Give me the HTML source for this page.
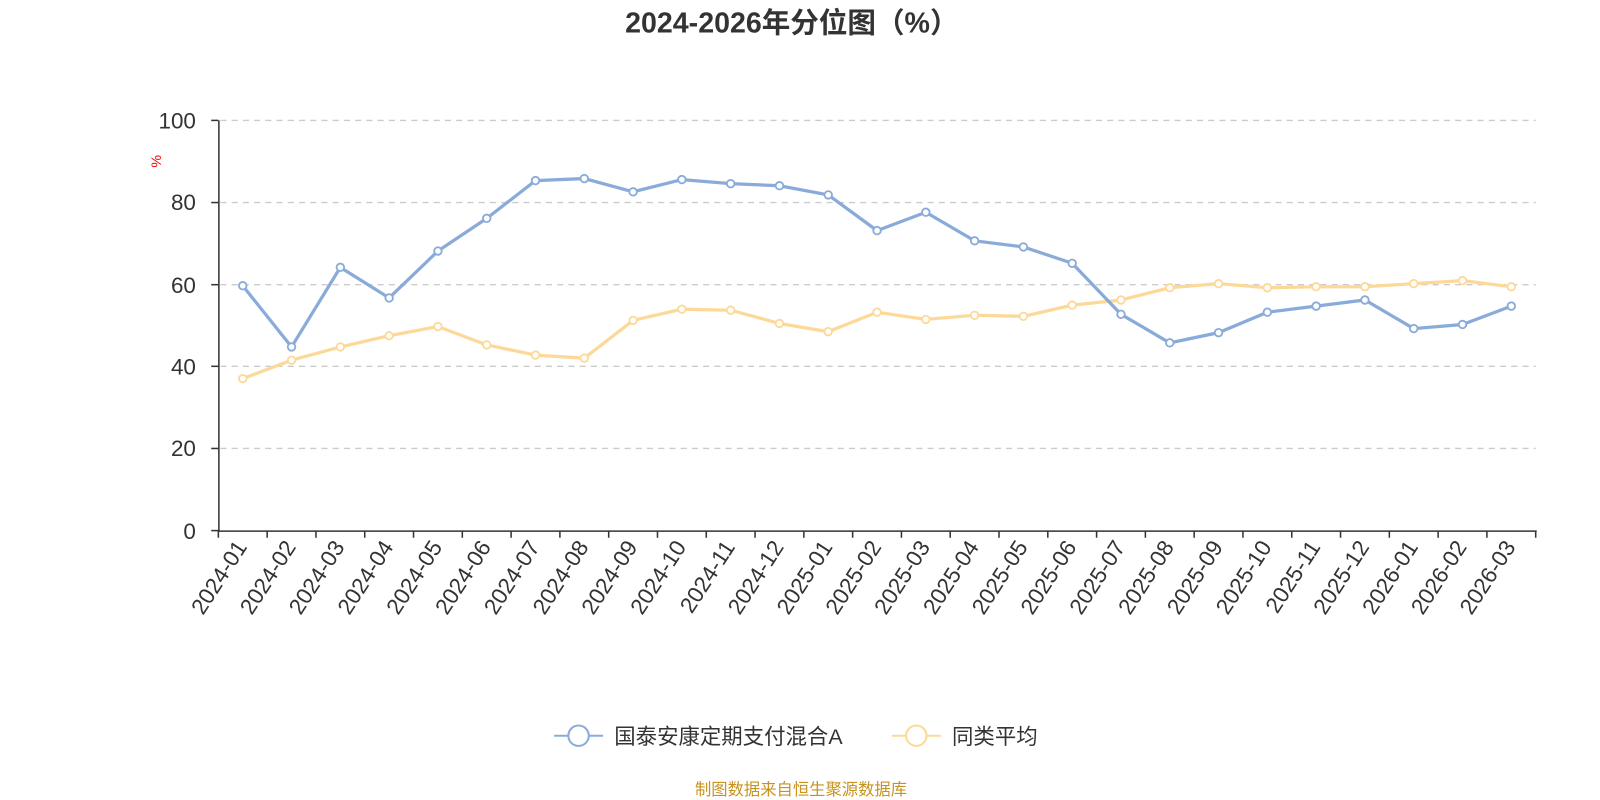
<!DOCTYPE html>
<html><head><meta charset="utf-8"><style>
body{margin:0;background:#fff;overflow:hidden}
svg{display:block;font-family:"Liberation Sans","Noto Sans CJK SC",sans-serif}
</style></head><body>
<svg width="1600" height="800" viewBox="0 0 1600 800" xmlns="http://www.w3.org/2000/svg">
<g transform="scale(1.0204)">
<text x="776" y="32" text-anchor="middle" font-size="28" font-weight="bold" fill="#333">2024-2026年分位图（%）</text>
<text x="158" y="158" font-size="14" fill="#e00" transform="rotate(-90 158 158)" text-anchor="middle">%</text>
<g stroke="#ccc" stroke-dasharray="6,5" stroke-width="1.3">
<line x1="216" x2="1505" y1="118" y2="118"/><line x1="216" x2="1505" y1="198.5" y2="198.5"/>
<line x1="216" x2="1505" y1="279" y2="279"/><line x1="216" x2="1505" y1="359" y2="359"/>
<line x1="216" x2="1505" y1="439.5" y2="439.5"/>
</g>
<g stroke="#333" stroke-width="1.5">
<line x1="214.5" x2="214.5" y1="118" y2="521"/><line x1="214" x2="1506" y1="520.5" y2="520.5"/>
<line x1="207" x2="214" y1="118" y2="118"/><line x1="207" x2="214" y1="198.5" y2="198.5"/><line x1="207" x2="214" y1="279" y2="279"/><line x1="207" x2="214" y1="359" y2="359"/><line x1="207" x2="214" y1="439.5" y2="439.5"/><line x1="207" x2="214" y1="520" y2="520"/>
</g>
<g font-size="22" fill="#333" text-anchor="end">
<text x="192" y="126">100</text><text x="192" y="206">80</text><text x="192" y="287">60</text><text x="192" y="367">40</text><text x="192" y="447">20</text><text x="192" y="528">0</text>
</g>
<g id="ticks" stroke="#333" stroke-width="1.5"></g>
<g id="labels" font-size="22" fill="#333" text-anchor="end"></g>
<polyline id="l2" fill="none" stroke="#fdd999" stroke-width="3.2"/>
<polyline id="l1" fill="none" stroke="#8aabda" stroke-width="3.2"/>
<g id="p2" fill="#fff" stroke="#fdd999" stroke-width="1.8"></g>
<g id="p1" fill="#fff" stroke="#8aabda" stroke-width="1.8"></g>
<line x1="543" x2="591" y1="721" y2="721" stroke="#8aabda" stroke-width="2"/>
<circle cx="567" cy="721" r="10" fill="#fff" stroke="#8aabda" stroke-width="2"/>
<text x="602" y="729" font-size="21" fill="#333">国泰安康定期支付混合A</text>
<line x1="874" x2="922" y1="721" y2="721" stroke="#fdd999" stroke-width="2"/>
<circle cx="898" cy="721" r="10" fill="#fff" stroke="#fdd999" stroke-width="2"/>
<text x="933" y="729" font-size="21" fill="#333">同类平均</text>
<text x="785" y="779" font-size="16" fill="#c8921e" text-anchor="middle">制图数据来自恒生聚源数据库</text>
</g>
</svg>
<script>
var b=[280,340,262,292,246,214,177,175,188,176,180,182,191,226,208,236,242,258,308,336,326,306,300,294,322,318,300];
var y=[371,353,340,329,320,338,348,351,314,303,304,317,325,306,313,309,310,299,294,282,278,282,281,281,278,275,281];
var labs=[];for(var yr=2024;yr<=2026;yr++)for(var m=1;m<=12;m++){if(yr==2026&&m>3)break;labs.push(yr+"-"+(m<10?"0":"")+m);}
var bw=1291/27,ns="http://www.w3.org/2000/svg";
function el(t,a,p){var e=document.createElementNS(ns,t);for(var k in a)e.setAttribute(k,a[k]);document.getElementById(p).appendChild(e);return e;}
var s1=[],s2=[];
for(var i=0;i<27;i++){var x=214+bw/2+i*bw;s1.push(x+","+b[i]);s2.push(x+","+y[i]);
el("circle",{cx:x,cy:b[i],r:3.7},"p1");el("circle",{cx:x,cy:y[i],r:3.7},"p2");
var lx=x+5,ly=536;
var t=el("text",{x:lx,y:ly,transform:"rotate(-57 "+lx+" "+ly+")"},"labels");t.textContent=labs[i];}
for(var k=0;k<=27;k++){var tx=214+k*bw;el("line",{x1:tx,x2:tx,y1:520,y2:527},"ticks");}
document.getElementById("l1").setAttribute("points",s1.join(" "));
document.getElementById("l2").setAttribute("points",s2.join(" "));
</script>
</body></html>
